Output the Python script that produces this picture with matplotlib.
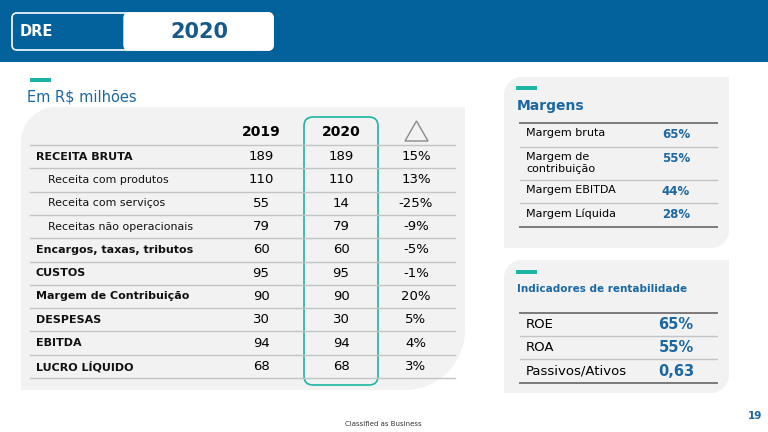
import numpy as np
import matplotlib.pyplot as plt
from matplotlib.patches import Polygon, FancyBboxPatch

# ---------------------------------------------------------
# DATA
# ---------------------------------------------------------
row_labels = ["RECEITA BRUTA", "Receita com produtos", "Receita com serviços",
              "Receitas não operacionais", "Encargos, taxas, tributos", "CUSTOS",
              "Margem de Contribuição", "DESPESAS", "EBITDA", "LUCRO LÍQUIDO"]
vals_2019 = [189, 110, 55, 79, 60, 95, 90, 30, 94, 68]
vals_2020 = [189, 110, 14, 79, 60, 95, 90, 30, 94, 68]
delta_pct = [15, 13, -25, -9, -5, -1, 20, 5, 4, 3]
sub_rows = [1, 2, 3]

margin_labels = ["Margem bruta", "Margem de\ncontribuição", "Margem EBITDA", "Margem Líquida"]
margin_values = [65, 55, 44, 28]

ind_labels = ["ROE", "ROA", "Passivos/Ativos"]
ind_values = ["65%", "55%", "0,63"]

# ---------------------------------------------------------
# COLORS
# ---------------------------------------------------------
BLUE_BAND = "#03619b"
TEXT_BLUE = "#1a67a3"
TEAL = "#1db5a4"
PANEL = "#f2f2f2"
LINE = "#c4c4c4"
DARK_LINE = "#7a7a7a"

plt.rcParams['font.family'] = ['DejaVu Sans']


def rounded_panel(ax, x0, y0, x1, y1, r_tl=0, r_tr=0, r_br=0, r_bl=0, **kw):
    # y grows downwards (pixel coords)
    pts = []

    def arc(cx, cy, r, a0, a1):
        if r == 0:
            return [(cx, cy)]
        t = np.radians(np.linspace(a0, a1, 20))
        return list(zip(cx + r * np.cos(t), cy + r * np.sin(t)))

    pts += arc(x1 - r_tr, y0 + r_tr, r_tr, -90, 0)
    pts += arc(x1 - r_br, y1 - r_br, r_br, 0, 90)
    pts += arc(x0 + r_bl, y1 - r_bl, r_bl, 90, 180)
    pts += arc(x0 + r_tl, y0 + r_tl, r_tl, 180, 270)
    ax.add_patch(Polygon(pts, closed=True, **kw))


fig = plt.figure(figsize=(7.68, 4.32), dpi=100)
ax = fig.add_axes([0, 0, 1, 1])
ax.set_xlim(0, 768)
ax.set_ylim(432, 0)
ax.axis("off")

# ---------------------------------------------------------
# HEADER
# ---------------------------------------------------------
ax.add_patch(plt.Rectangle((0, 0), 768, 62, color=BLUE_BAND, lw=0))
ax.add_patch(FancyBboxPatch((124, 13), 149, 37, boxstyle="round,pad=0,rounding_size=5",
                            fc="white", ec="white", lw=1))
ax.add_patch(FancyBboxPatch((12, 13), 261, 37, boxstyle="round,pad=0,rounding_size=5",
                            fc="none", ec="white", lw=1.2))
ax.text(20, 32, "DRE", color="white", fontsize=10.5, fontweight="bold", va="center")
ax.text(199, 32, "2020", color="#17598a", fontsize=15, fontweight="bold",
        va="center", ha="center")

# ---------------------------------------------------------
# MAIN TABLE
# ---------------------------------------------------------
ax.add_patch(plt.Rectangle((30, 78), 21, 4, color=TEAL, lw=0))
ax.text(27, 97, "Em R$ milhões", color=TEXT_BLUE, fontsize=10.5, va="center")

rounded_panel(ax, 21, 107, 465, 390, r_tl=35, r_br=60, fc=PANEL, ec="none")

ax.add_patch(FancyBboxPatch((304, 117), 74, 268, boxstyle="round,pad=0,rounding_size=9",
                            fc="none", ec=TEAL, lw=1.2))

ax.text(261, 132, "2019", fontsize=10, fontweight="bold", ha="center", va="center")
ax.text(341, 132, "2020", fontsize=10, fontweight="bold", ha="center", va="center")
ax.add_patch(Polygon([(405, 141), (428, 141), (416.5, 121)], closed=True,
                     fc="none", ec="#8a8a8a", lw=1))

row_h = 23.3
top = 145
ax.plot([30, 455], [top, top], color=LINE, lw=1)
for i, lab in enumerate(row_labels):
    yc = top + row_h * (i + 0.5)
    if i in sub_rows:
        ax.text(48, yc, lab, fontsize=7.9, va="center", color="#111111")
    else:
        ax.text(36, yc, lab, fontsize=8.0, fontweight="bold", va="center", color="#111111")
    ax.text(261, yc, f"{vals_2019[i]}", fontsize=9.5, ha="center", va="center")
    ax.text(341, yc, f"{vals_2020[i]}", fontsize=9.5, ha="center", va="center")
    ax.text(416, yc, f"{delta_pct[i]}%", fontsize=9.5, ha="center", va="center")
    yl = top + row_h * (i + 1)
    ax.plot([30, 455], [yl, yl], color=LINE, lw=1)

# ---------------------------------------------------------
# MARGENS PANEL
# ---------------------------------------------------------
rounded_panel(ax, 504, 77, 729, 248, r_tl=18, r_br=18, fc=PANEL, ec="none")
ax.add_patch(plt.Rectangle((516, 86), 21, 3.5, color=TEAL, lw=0))
ax.text(517, 106, "Margens", color=TEXT_BLUE, fontsize=10, fontweight="bold", va="center")

m_lines = [123.3, 147.3, 180, 203.3, 226.7]
for k, yl in enumerate(m_lines):
    dark = k in (0, len(m_lines) - 1)
    ax.plot([520, 717], [yl, yl], color=DARK_LINE if dark else LINE, lw=1.4 if dark else 1)
for k, lab in enumerate(margin_labels):
    ytop = m_lines[k] + 5
    ax.text(526, ytop, lab, fontsize=8, va="top", linespacing=1.15)
    ax.text(676, ytop, f"{margin_values[k]}%", color=TEXT_BLUE, fontsize=8.5,
            fontweight="bold", ha="center", va="top")

# ---------------------------------------------------------
# INDICADORES PANEL
# ---------------------------------------------------------
rounded_panel(ax, 504, 260, 729, 393, r_tl=18, r_br=18, fc=PANEL, ec="none")
ax.add_patch(plt.Rectangle((516, 270), 21, 3.5, color=TEAL, lw=0))
ax.text(517, 289, "Indicadores de rentabilidade", color=TEXT_BLUE, fontsize=7.5,
        fontweight="bold", va="center")

i_lines = [312.7, 336, 359.3, 382.7]
for k, yl in enumerate(i_lines):
    dark = k in (0, len(i_lines) - 1)
    ax.plot([520, 717], [yl, yl], color=DARK_LINE if dark else LINE, lw=1.4 if dark else 1)
for k, lab in enumerate(ind_labels):
    yc = (i_lines[k] + i_lines[k + 1]) / 2
    ax.text(526, yc, lab, fontsize=9.5, va="center")
    ax.text(676, yc, ind_values[k], color=TEXT_BLUE, fontsize=10.5,
            fontweight="bold", ha="center", va="center")

# ---------------------------------------------------------
# FOOTER
# ---------------------------------------------------------
ax.text(383, 424, "Classified as Business", fontsize=5, ha="center", va="center", color="#333333")
ax.text(755, 416, "19", fontsize=7.5, fontweight="bold", ha="center", va="center", color=TEXT_BLUE)

fig.savefig("out.png", dpi=100)
